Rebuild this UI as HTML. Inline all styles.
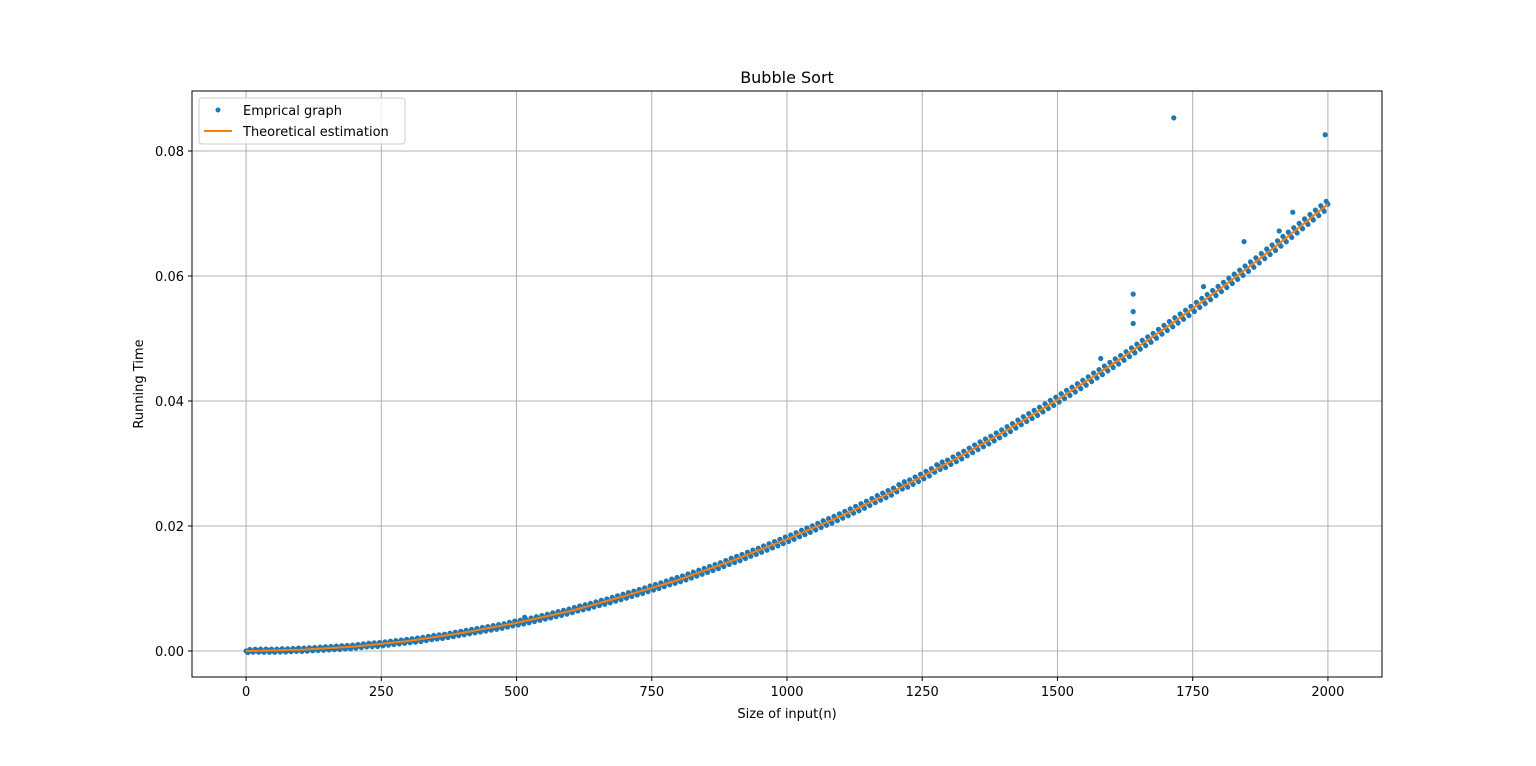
<!DOCTYPE html>
<html><head><meta charset="utf-8"><style>
body{margin:0;background:#fff;}
svg text{font-family:"DejaVu Sans","Liberation Sans",sans-serif;fill:#000;}
</style></head><body>
<svg id="chart" width="1536" height="761" xmlns="http://www.w3.org/2000/svg">
<rect width="1536" height="761" fill="#fff"/>
<g id="grid"></g>
<g id="ticks"></g>
<g id="series"></g>
<rect x="192" y="91" width="1190" height="586" fill="none" stroke="#000" stroke-width="1"/>
<text x="787" y="83" font-size="16" text-anchor="middle">Bubble Sort</text>
<text x="787" y="718" font-size="13" text-anchor="middle">Size of input(n)</text>
<text x="143" y="384" font-size="13" text-anchor="middle" transform="rotate(-90 143 384)">Running Time</text>
<g>
<rect x="199" y="98" width="206" height="46" rx="3" fill="#fff" fill-opacity="0.8" stroke="#ccc"/>
<g><circle cx="218" cy="110" r="2.5" fill="#1f77b4"/><text x="243" y="115" font-size="13">Emprical graph</text></g>
<g><line x1="204" y1="131" x2="232" y2="131" stroke="#ff7f0e" stroke-width="2"/><text x="243" y="136" font-size="13">Theoretical estimation</text></g>
</g>
</svg>
<script>
const empX = [];
for (let i = 0; i <= 200; i++) empX.push(i * 10);
const empY = [0,0.0000,0.0001,0.0000,0.0001,0.0000,0.0001,0.0001,0.0001,0.0002,0.0002,0.0002,0.0003,0.0003,0.0004,0.0004,0.0005,0.0005,0.0006,0.0006,0.0007,0.0008,0.0009,0.0010,0.0010,0.0011,0.0012,0.0013,0.0014,0.0015,0.0016,0.0017,0.0018,0.0019,0.0021,0.0022,0.0023,0.0024,0.0026,0.0027,0.0029,0.0030,0.0032,0.0033,0.0035,0.0036,0.0038,0.0039,0.0041,0.0043,0.0045,0.0046,0.0048,0.0050,0.0052,0.0054,0.0056,0.0058,0.0060,0.0062,0.0064,0.0067,0.0069,0.0071,0.0073,0.0076,0.0078,0.0080,0.0083,0.0085,0.0088,0.0090,0.0093,0.0095,0.0098,0.0101,0.0103,0.0106,0.0109,0.0112,0.0114,0.0117,0.0120,0.0123,0.0126,0.0129,0.0132,0.0135,0.0138,0.0142,0.0145,0.0148,0.0151,0.0155,0.0158,0.0161,0.0165,0.0168,0.0172,0.0175,0.0179,0.0182,0.0186,0.0190,0.0193,0.0197,0.0201,0.0205,0.0208,0.0212,0.0216,0.0220,0.0224,0.0228,0.0232,0.0236,0.0241,0.0245,0.0249,0.0253,0.0257,0.0264,0.0266,0.0270,0.0275,0.0279,0.0284,0.0288,0.0296,0.0297,0.0302,0.0307,0.0311,0.0316,0.0321,0.0326,0.0331,0.0335,0.0340,0.0345,0.0350,0.0355,0.0360,0.0366,0.0371,0.0376,0.0381,0.0386,0.0392,0.0397,0.0402,0.0408,0.0413,0.0418,0.0424,0.0429,0.0435,0.0441,0.0446,0.0452,0.0458,0.0463,0.0469,0.0475,0.0481,0.0487,0.0493,0.0498,0.0504,0.0511,0.0517,0.0523,0.0529,0.0535,0.0541,0.0547,0.0554,0.0560,0.0566,0.0573,0.0579,0.0586,0.0592,0.0599,0.0605,0.0612,0.0618,0.0625,0.0632,0.0639,0.0645,0.0652,0.0659,0.0666,0.0673,0.0680,0.0687,0.0694,0.0701,0.0708,0.0715];
const outX = [515,1640,1640,1640,1715,1995,1845,1910,1580,1770,1935];
const outY = [0.0054,0.0571,0.0543,0.0524,0.0853,0.0826,0.0655,0.0672,0.0468,0.0583,0.0702];
const theoX = [0,100,200,300,400,500,600,700,800,900,1000,1100,1200,1300,1400,1500,1600,1700,1800,1900,2000];
const theoY = [0,0.0002,0.0007,0.0016,0.0029,0.0045,0.0064,0.0088,0.0114,0.0145,0.0179,0.0216,0.0257,0.0302,0.0350,0.0402,0.0458,0.0517,0.0579,0.0645,0.0715];
const xTicks = [0,250,500,750,1000,1250,1500,1750,2000];
const yTicks = [0,0.02,0.04,0.06,0.08];
const yTickLabels = ["0.00","0.02","0.04","0.06","0.08"];

const NS = "http://www.w3.org/2000/svg";
const L=192,R=1382,T=91,B=677, xMin=-100,xMax=2100,yMin=-0.00416,yMax=0.0896;
const sx = v => L + (v - xMin) / (xMax - xMin) * (R - L);
const sy = v => B - (v - yMin) / (yMax - yMin) * (B - T);
function mk(tag, attrs, parent){const e=document.createElementNS(NS,tag);for(const k in attrs)e.setAttribute(k,attrs[k]);parent.appendChild(e);return e;}
const grid=document.getElementById('grid'), ticks=document.getElementById('ticks'), series=document.getElementById('series');
xTicks.forEach(t=>{
  const x=sx(t);
  const g=mk('line',{x1:x,x2:x,y1:T,y2:B,stroke:'#b0b0b0','stroke-width':1},grid);
  
  
  mk('line',{x1:x,x2:x,y1:B,y2:B+4,stroke:'#000'},ticks);
  const tx=mk('text',{x:x,y:B+19,'font-size':13,'text-anchor':'middle'},ticks);
  tx.textContent=t;
  
  
});
yTicks.forEach((t,i)=>{
  const y=sy(t);
  const g=mk('line',{x1:L,x2:R,y1:y,y2:y,stroke:'#b0b0b0','stroke-width':1},grid);
  
  
  mk('line',{x1:L-4,x2:L,y1:y,y2:y,stroke:'#000'},ticks);
  const tx=mk('text',{x:L-8,y:y+5,'font-size':13,'text-anchor':'end'},ticks);
  tx.textContent=yTickLabels[i];
  
  
});
empX.forEach((x,i)=>{
  const p=mk('circle',{cx:sx(x),cy:sy(empY[i]),r:2.6,fill:'#1f77b4'},series);
  
  
  if(i<empX.length-1){
    const spread=1.5+3.5*x/2000;
    const mx=(sx(x)+sx(empX[i+1]))/2, my=(sy(empY[i])+sy(empY[i+1]))/2;
    const q=mk('circle',{cx:mx-1,cy:my+spread,r:2.6,fill:'#1f77b4'},series);
    
    
    const q2=mk('circle',{cx:mx+1,cy:my-spread,r:2.6,fill:'#1f77b4'},series);
    
    
  }
});
outX.forEach((x,i)=>{
  const p=mk('circle',{cx:sx(x),cy:sy(outY[i]),r:2.6,fill:'#1f77b4'},series);
  
  
});
const line=mk('polyline',{points:theoX.map((x,i)=>sx(x)+','+sy(theoY[i])).join(' '),fill:'none',stroke:'#ff7f0e','stroke-width':2},series);


</script>
</body></html>
